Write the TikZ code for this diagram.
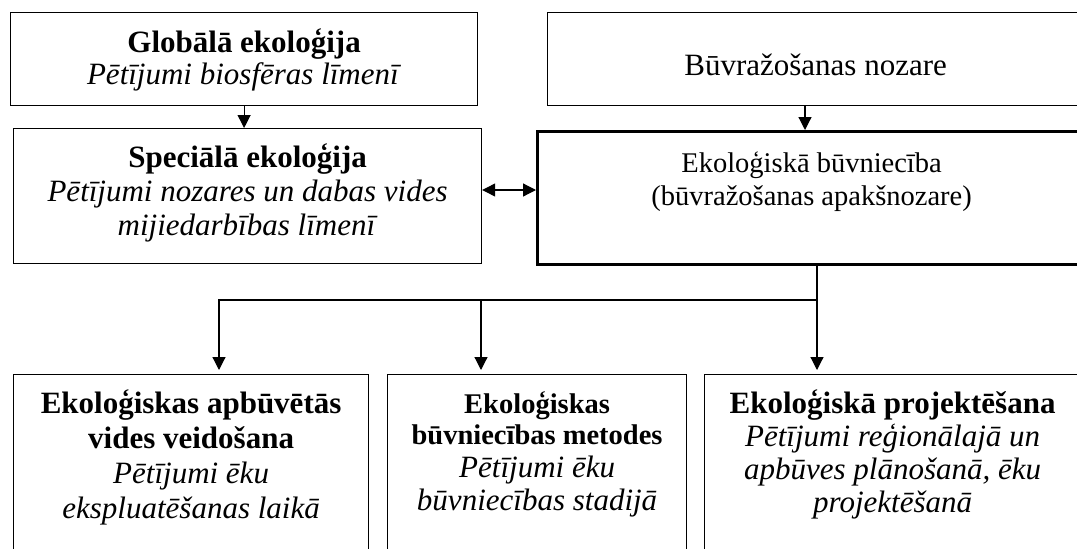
\documentclass[tikz,border=0pt]{standalone}
\usepackage{fontspec}
\setmainfont{Liberation Serif}
\usetikzlibrary{arrows.meta}

% #1 width, #2 height, #3 first baseline below top, #4 line spacing, #5 lines
\newcommand\boxtext[5]{%
  \parbox[c][#2pt][t]{#1pt}{\centering\fontsize{31}{#4}\selectfont
    \rule{0pt}{#3pt}#5}}

\begin{document}
\begin{tikzpicture}[x=1pt,y=-1pt,
  box/.style={draw, line width=1.2pt, rectangle, inner sep=0pt, anchor=north west},
  thickbox/.style={box, line width=3.2pt},
  tip/.tip={Triangle[length=13pt,width=13pt]},
  arr/.style={line width=1.2pt, -tip},
  darr/.style={line width=1.2pt, tip-tip},
]
\useasboundingbox (0,0) rectangle (1077,549);
\clip (0,0) rectangle (1077,549);

% upper row
\node[box] (G) at (10,12) {\boxtext{467}{93}{40}{31.5}{%
  \textbf{Globālā ekoloģija}\\\textit{Pētījumi biosfēras līmenī}}};
\node[box] (B) at (547,12) {\boxtext{536}{93}{63}{33}{Būvražošanas nozare}};

% middle row
\node[box] (S) at (13,128) {\boxtext{468}{135}{39}{34}{%
  \textbf{Speciālā ekoloģija}\\\textit{Pētījumi nozares un dabas vides}\\
  \textit{mijiedarbības līmenī}}};
\node[thickbox] (E) at (536,130) {\boxtext{548}{133}{41}{33}{%
  \fontsize{28.5}{33}\selectfont
  Ekoloģiskā būvniecība\\(būvražošanas apakšnozare)}};

% lower row
\node[box] (A4) at (13,374) {\boxtext{355}{220}{39}{35}{%
  \textbf{Ekoloģiskas apbūvētās}\\\textbf{vides veidošana}\\
  \textit{Pētījumi ēku}\\\textit{ekspluatēšanas laikā}}};
\node[box] (A5) at (387,374) {\boxtext{299}{220}{39}{33}{%
  {\fontsize{28.5}{33}\selectfont\bfseries Ekoloģiskas\\[-2pt]
  būvniecības metodes}\\
  \textit{Pētījumi ēku}\\\textit{būvniecības stadijā}}};
\node[box] (A6) at (704,374) {\boxtext{376}{220}{39}{33}{%
  \textbf{Ekoloģiskā projektēšana}\\\textit{Pētījumi reģionālajā un}\\
  \textit{apbūves plānošanā, ēku}\\\textit{projektēšanā}}};

% connectors
\coordinate (bx) at (805,0);
\coordinate (dy) at (0,190);
\coordinate (jl) at (219,300);
\coordinate (jm) at (481,300);
\coordinate (jr) at (817,300);

\draw[arr] (G.south) -- (G.south |- S.north);
\draw[arr] (bx |- B.south) -- (bx |- E.north);
\draw[darr] (dy -| S.east) -- (dy -| E.west);
\draw[arr, shorten >=4pt] (jr |- E.south) -- (jr |- A6.north);
\draw[arr, shorten >=4pt] (jr) -- (jl) -- (jl |- A4.north);
\draw[arr, shorten >=4pt] (jm) -- (jm |- A5.north);
\end{tikzpicture}
\end{document}
